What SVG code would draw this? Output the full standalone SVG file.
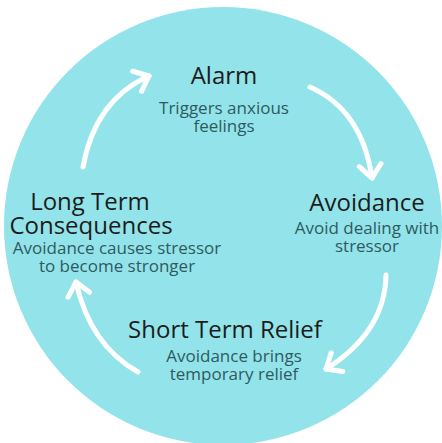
<svg xmlns="http://www.w3.org/2000/svg" width="442" height="443" viewBox="0 0 442 443">
<style>
.t{font-family:"Open Sans","Liberation Sans",sans-serif;fill:#1c1c1c;font-size:24px;text-anchor:middle}
.d{font-family:"Open Sans","Liberation Sans",sans-serif;fill:#2e5a5f;font-size:17px;text-anchor:middle}
.a{fill:none;stroke:#ffffff;stroke-width:5;stroke-linecap:round;marker-end:url(#h)}
</style>
<defs>
<marker id="h" markerUnits="userSpaceOnUse" markerWidth="30" markerHeight="30" refX="0" refY="0" viewBox="-20 -15 25 30" orient="auto">
<path d="M-13,-11 L0,0 L-13,11" fill="none" stroke="#ffffff" stroke-width="5" stroke-linecap="round" stroke-linejoin="round"/>
</marker>
</defs>
<rect width="442" height="443" fill="#ffffff"/>
<circle cx="223" cy="226" r="219" fill="#93e4ea"/>
<g id="connectors">
<path class="a" d="M83,167 Q95,100 149,76"/>
<path class="a" d="M310,87 Q362,110 372,178"/>
<path class="a" d="M386,275 Q385,332 326,369"/>
<path class="a" d="M138,372 Q90,345 76,282"/>
</g>
<g id="alarm">
<text class="t" x="224" y="84">Alarm</text>
<text class="d" x="224" y="114">Triggers anxious</text>
<text class="d" x="224" y="132">feelings</text>
</g>
<g id="avoidance">
<text class="t" x="367" y="211">Avoidance</text>
<text class="d" x="367" y="234">Avoid dealing with</text>
<text class="d" x="367" y="252">stressor</text>
</g>
<g id="short-term">
<text class="t" x="225" y="338">Short Term Relief</text>
<text class="d" x="234" y="362">Avoidance brings</text>
<text class="d" x="234" y="380">temporary relief</text>
</g>
<g id="long-term">
<text class="t" x="90" y="210">Long Term</text>
<text class="t" x="91" y="234">Consequences</text>
<text class="d" x="117" y="254">Avoidance causes stressor</text>
<text class="d" x="117" y="272">to become stronger</text>
</g>
</svg>
